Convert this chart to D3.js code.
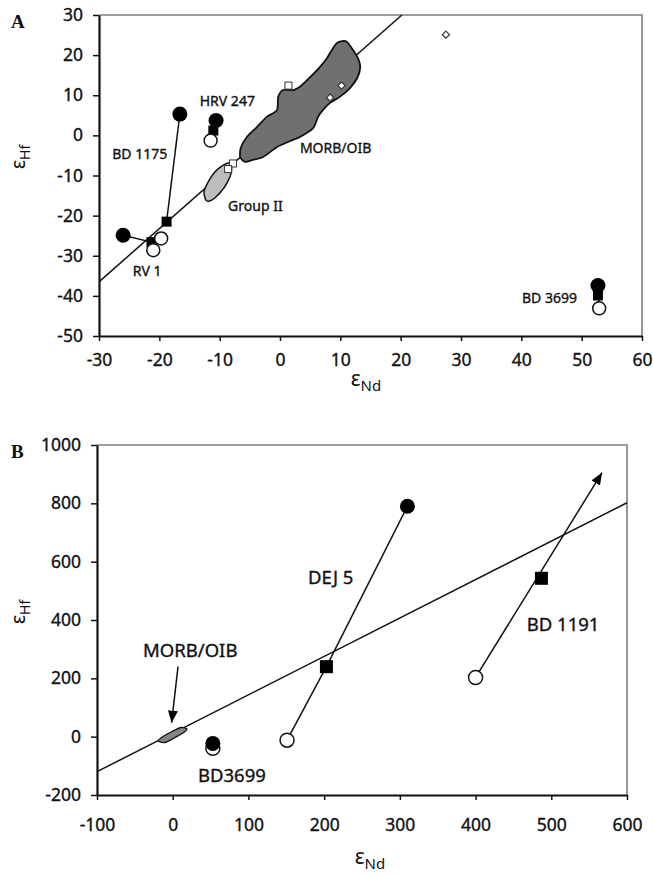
<!DOCTYPE html>
<html>
<head>
<meta charset="utf-8">
<script src="https://cdn.jsdelivr.net/npm/d3@7"></script>
<style>
  body { margin: 0; background: #fff; }
  text { font-family: "Noto Sans", sans-serif; fill: #111; }
  .tick text, text.lab { stroke: #111; stroke-width: 0.35px; }
</style>
</head>
<body>
<svg id="chart" width="653" height="875"></svg>
<script>
// ---------- Panel A (eNd vs eHf) ----------
const aArray = [[-30, -36.5], [20.2, 30]];            // terrestrial array
const aMorb = [[-5.8, -6.6], [-4.5, -6.1], [-2.8, -5.4], [-0.5, -2.9], [1.7, -1.4], [3.3, -0.4],
  [5.5, 1.8], [6.3, 4.6], [7.1, 6.3], [8.3, 8.1], [9.9, 9.6], [11.6, 11.8], [12.8, 14.3],
  [13.3, 17.0], [12.9, 19.3], [12.1, 21.3], [11.1, 23.3], [10.3, 23.5], [9.4, 23.0],
  [8.6, 21.3], [7.8, 19.3], [6.6, 17.0], [5.0, 14.5], [3.3, 12.1], [2.2, 11.3], [0.5, 11.3],
  [-0.3, 9.6], [-0.5, 6.3], [-2.2, 4.6], [-3.8, 2.1], [-5.5, -0.4], [-6.5, -3.1], [-6.6, -5.4]];
const aGroupII = [[-12.3, -16.1], [-12.6, -14.1], [-11.9, -11.6], [-10.8, -9.1], [-9.6, -7.6],
  [-8.5, -6.9], [-8.0, -7.9], [-8.3, -10.4], [-9.3, -13.1], [-10.8, -15.6], [-11.8, -16.4]];
const aFilled = [[-16.6, 5.3], [-26.0, -24.9], [-10.6, 3.7], [52.7, -37.4]];
const aSquares = [[-18.8, -21.5], [-21.3, -26.6], [-11.05, 1.2], [52.7, -39.9]];
const aOpen = [[-19.7, -25.7], [-21.0, -28.6], [-11.5, -1.3], [52.9, -43.1]];
const aTies = [[[-16.6, 5.3], [-18.8, -21.5]], [[-26.0, -24.9], [-21.3, -26.6]],
  [[-10.6, 3.7], [-11.5, -1.3]], [[52.7, -37.4], [52.9, -43.1]]];
const aOpenSquares = [[1.4, 12.4], [-7.8, -7.0], [-8.6, -8.4]];
const aDiamonds = [[27.5, 25.1], [10.2, 12.4], [8.3, 9.4]];
const aLabels = [
  { text: "HRV 247", at: [-13.3, 7.2] },
  { text: "BD 1175", at: [-27.8, -5.9] },
  { text: "Group II", at: [-8.6, -18.8] },
  { text: "RV 1", at: [-24.4, -35.0] },
  { text: "MORB/OIB", at: [3.3, -4.4] },
  { text: "BD 3699", at: [40.1, -41.8] }
];
const aXTicks = [-30, -20, -10, 0, 10, 20, 30, 40, 50, 60];
const aYTicks = [-50, -40, -30, -20, -10, 0, 10, 20, 30];

// ---------- Panel B ----------
const bArray = [[-100, -120], [600, 802]];
const bMorb = [[-19.4, -14.8], [-12.8, 0.6], [-0.9, 17.7], [11.0, 31.4], [18.9, 26.3],
  [13.6, 12.6], [1.7, -4.5], [-10.2, -20.0]];
const bFilled = [[310, 790], [53, -23]];
const bSquares = [[203, 240], [487, 543]];
const bOpen = [[151, -12], [400, 203], [53, -40]];
const bTies = [[[151, -12], [203, 240]], [[203, 240], [310, 790]]];
const bArrows = [[[400, 203], [567, 905]], [[7, 240], [-1.5, 48]]];
const bLabels = [
  { text: "MORB/OIB", at: [-39.2, 274] },
  { text: "BD3699", at: [33.4, -154] },
  { text: "DEJ 5", at: [178.7, 523] },
  { text: "BD 1191", at: [467.6, 363] }
];
const bXTicks = [-100, 0, 100, 200, 300, 400, 500, 600];
const bYTicks = [-200, 0, 200, 400, 600, 800, 1000];

const svg = d3.select("#chart");

svg.append("defs").append("marker")
  .attr("id", "head")
  .attr("markerUnits", "userSpaceOnUse")
  .attr("viewBox", "0 0 12 10")
  .attr("markerWidth", 12).attr("markerHeight", 10)
  .attr("refX", 12).attr("refY", 5)
  .attr("orient", "auto")
  .append("path").attr("d", "M0,0L12,5L0,10Z").attr("fill", "#000");

function panel(cfg) {
  const x = d3.scaleLinear().domain(cfg.xDomain).range([cfg.left, cfg.right]);
  const y = d3.scaleLinear().domain(cfg.yDomain).range([cfg.bottom, cfg.top]);
  const g = svg.append("g");
  const line = d3.line().x(d => x(d[0])).y(d => y(d[1]));

  // grey frame on the top and right
  g.append("path")
    .attr("d", `M${cfg.left},${cfg.top}H${cfg.right}V${cfg.bottom}`)
    .attr("fill", "none").attr("stroke", "#7d7d7d").attr("stroke-width", 1.6);

  const layer = g.append("g");

  const xAxis = d3.axisBottom(x).tickValues(cfg.xTicks).tickFormat(d => String(d))
    .tickSize(5).tickSizeOuter(0).tickPadding(cfg.xPad);
  const yAxis = d3.axisLeft(y).tickValues(cfg.yTicks).tickFormat(d => String(d))
    .tickSize(6).tickSizeOuter(0).tickPadding(10);

  const axes = g.append("g");
  axes.append("g").attr("transform", `translate(0,${cfg.bottom})`).call(xAxis);
  axes.append("g").attr("transform", `translate(${cfg.left},0)`).call(yAxis);
  axes.selectAll(".domain").attr("stroke", "#111").attr("stroke-width", 2.2);
  axes.selectAll(".tick line").attr("stroke", "#111").attr("stroke-width", 1.5);
  axes.selectAll(".tick text").attr("font-size", 17.5).attr("fill", "#111")
    .style("font-family", "'Noto Sans', sans-serif");

  // panel letter
  g.append("text").attr("x", 11).attr("y", cfg.top + 13)
    .style("font-family", "'Liberation Serif', serif").attr("font-weight", "bold")
    .attr("font-size", 19).text(cfg.letter);

  // axis titles
  const xt = g.append("text").attr("x", cfg.xTitle[0]).attr("y", cfg.xTitle[1])
    .attr("text-anchor", "middle");
  xt.append("tspan").attr("font-size", 21).text("ε");
  xt.append("tspan").attr("font-size", 15).attr("dy", 5).text("Nd");

  const yt = g.append("text")
    .attr("transform", `translate(${cfg.yTitle[0]},${cfg.yTitle[1]}) rotate(-90)`)
    .attr("text-anchor", "middle");
  yt.append("tspan").attr("font-size", 20).text("ε");
  yt.append("tspan").attr("font-size", 14).attr("dy", 5).text("Hf");

  return { x, y, layer, line };
}

// ================= Panel A =================
{
  const { x, y, layer, line } = panel({
    letter: "A", left: 99, right: 642, top: 15, bottom: 336,
    xDomain: [-30, 60], yDomain: [-50, 30], xTicks: aXTicks, yTicks: aYTicks,
    xPad: 13, xTitle: [366, 386], yTitle: [25, 157]
  });

  layer.append("path").attr("d", line(aArray))
    .attr("fill", "none").attr("stroke", "#111").attr("stroke-width", 1.5);

  const closed = d3.line().x(d => x(d[0])).y(d => y(d[1])).curve(d3.curveCardinalClosed.tension(0.3));
  layer.append("path").attr("d", closed(aGroupII))
    .attr("fill", "#bdbdbd").attr("stroke", "#111").attr("stroke-width", 1.5);
  layer.append("path").attr("d", closed(aMorb))
    .attr("fill", "#707070").attr("stroke", "#111").attr("stroke-width", 1.8);

  layer.selectAll("path.tie").data(aTies).join("path").attr("class", "tie")
    .attr("d", line).attr("stroke", "#111").attr("stroke-width", 1.5);

  layer.selectAll("circle.filled").data(aFilled).join("circle").attr("class", "filled")
    .attr("cx", d => x(d[0])).attr("cy", d => y(d[1])).attr("r", 7.5).attr("fill", "#000");
  layer.selectAll("rect.sq").data(aSquares).join("rect").attr("class", "sq")
    .attr("x", d => x(d[0]) - 5).attr("y", d => y(d[1]) - 5)
    .attr("width", 10).attr("height", 10).attr("fill", "#000");
  layer.selectAll("circle.open").data(aOpen).join("circle").attr("class", "open")
    .attr("cx", d => x(d[0])).attr("cy", d => y(d[1])).attr("r", 6.5)
    .attr("fill", "#fff").attr("stroke", "#111").attr("stroke-width", 1.5);
  layer.selectAll("rect.osq").data(aOpenSquares).join("rect").attr("class", "osq")
    .attr("x", d => x(d[0]) - 3.5).attr("y", d => y(d[1]) - 3.5)
    .attr("width", 7).attr("height", 7)
    .attr("fill", "#fff").attr("stroke", "#333").attr("stroke-width", 1);
  layer.selectAll("path.dia").data(aDiamonds).join("path").attr("class", "dia")
    .attr("transform", d => `translate(${x(d[0])},${y(d[1])})`)
    .attr("d", "M0,-3.6L3.6,0L0,3.6L-3.6,0Z")
    .attr("fill", "#fff").attr("stroke", "#333").attr("stroke-width", 1.2);

  layer.selectAll("text.lab").data(aLabels).join("text").attr("class", "lab")
    .attr("x", d => x(d.at[0])).attr("y", d => y(d.at[1]))
    .attr("font-size", 14).text(d => d.text);
}

// ================= Panel B =================
{
  const { x, y, layer, line } = panel({
    letter: "B", left: 97, right: 627, top: 445, bottom: 795,
    xDomain: [-100, 600], yDomain: [-200, 1000], xTicks: bXTicks, yTicks: bYTicks,
    xPad: 19, xTitle: [370, 864], yTitle: [25, 612]
  });

  layer.append("path").attr("d", line(bArray))
    .attr("fill", "none").attr("stroke", "#111").attr("stroke-width", 1.5);

  const closed = d3.line().x(d => x(d[0])).y(d => y(d[1])).curve(d3.curveCardinalClosed.tension(0.3));
  layer.append("path").attr("d", closed(bMorb))
    .attr("fill", "#858585").attr("stroke", "#111").attr("stroke-width", 1.3);

  layer.selectAll("path.tie").data(bTies).join("path").attr("class", "tie")
    .attr("d", line).attr("stroke", "#111").attr("stroke-width", 1.5);
  layer.selectAll("path.arrow").data(bArrows).join("path").attr("class", "arrow")
    .attr("d", line).attr("stroke", "#111").attr("stroke-width", 1.5)
    .attr("marker-end", "url(#head)");

  layer.selectAll("circle.open").data(bOpen).join("circle").attr("class", "open")
    .attr("cx", d => x(d[0])).attr("cy", d => y(d[1])).attr("r", 7)
    .attr("fill", "#fff").attr("stroke", "#111").attr("stroke-width", 1.5);
  layer.selectAll("circle.filled").data(bFilled).join("circle").attr("class", "filled")
    .attr("cx", d => x(d[0])).attr("cy", d => y(d[1])).attr("r", 7.5).attr("fill", "#000");
  layer.selectAll("rect.sq").data(bSquares).join("rect").attr("class", "sq")
    .attr("x", d => x(d[0]) - 6.5).attr("y", d => y(d[1]) - 6.5)
    .attr("width", 13).attr("height", 13).attr("fill", "#000");

  layer.selectAll("text.lab").data(bLabels).join("text").attr("class", "lab")
    .attr("x", d => x(d.at[0])).attr("y", d => y(d.at[1]))
    .attr("font-size", 18.5).text(d => d.text);
}
</script>
</body>
</html>
